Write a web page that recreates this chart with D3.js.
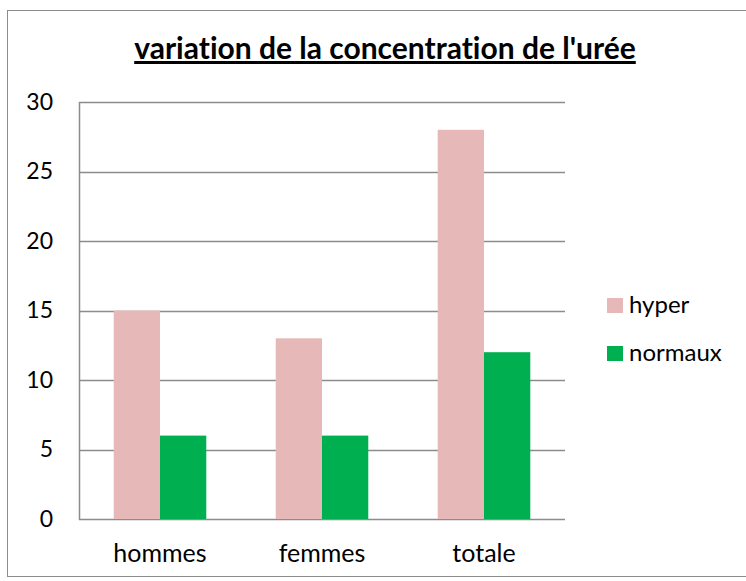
<!DOCTYPE html>
<html>
  <head>
    <meta charset="utf-8">
    <title>variation de la concentration de l'urée</title>
    <script src="https://d3js.org/d3.v7.min.js"></script>
    <style>
      body { margin: 0; background: #fff; }
      text { font-family: Lato, "Open Sans", sans-serif; fill: #000; font-variant-ligatures: none; }
    </style>
  </head>
  <body>
    <svg width="746" height="581"></svg>
    <script>
      var categories = ["hommes", "femmes", "totale"];
      var seriesNames = ["hyper", "normaux"];
      var hyper = [15, 13, 28];
      var normaux = [6, 6, 12];
      var yTicks = [0, 5, 10, 15, 20, 25, 30];
      var colors = ["#E6B9B8", "#00B050"];

      var svg = d3.select("svg");
      var marge = {top: 102, bottom: 62, left: 79, right: 181};
      var width = 746, height = 581;

      // cadre
      svg.append("rect")
        .attr("x", 7.5).attr("y", 10.5)
        .attr("width", 746).attr("height", 566)
        .attr("fill", "#fff").attr("stroke", "#8c8c8c");

      var x0 = d3.scaleBand()
        .domain(categories)
        .range([marge.left, width - marge.right]);
      var x1 = d3.scaleBand()
        .domain(seriesNames)
        .range([0, x0.bandwidth()])
        .paddingOuter(0.75);
      var y = d3.scaleLinear()
        .domain([0, 30])
        .range([height - marge.bottom, marge.top]);

      // grille
      svg.append("g").selectAll("line")
        .data(yTicks)
        .enter().append("line")
        .attr("x1", marge.left).attr("x2", width - marge.right)
        .attr("y1", function(d){ return Math.round(y(d)) + 0.5; })
        .attr("y2", function(d){ return Math.round(y(d)) + 0.5; })
        .attr("stroke", "#8c8c8c").attr("stroke-width", 1.5);

      // barres
      var table = categories.map(function(c, i){
        return {cat: c, values: [hyper[i], normaux[i]]};
      });
      var gs = svg.append("g").selectAll("g")
        .data(table)
        .enter().append("g")
        .attr("transform", function(d){ return "translate(" + x0(d.cat) + ",0)"; });
      gs.selectAll("rect")
        .data(function(d){ return d.values.map(function(v, j){ return {s: seriesNames[j], v: v, j: j}; }); })
        .enter().append("rect")
        .attr("x", function(d){ return x1(d.s); })
        .attr("width", x1.bandwidth())
        .attr("y", function(d){ return y(d.v); })
        .attr("height", function(d){ return y(0) - y(d.v); })
        .attr("fill", function(d){ return colors[d.j]; });

      // axe y
      svg.append("line")
        .attr("x1", marge.left + 0.5).attr("x2", marge.left + 0.5)
        .attr("y1", y(30)).attr("y2", y(0) + 1)
        .attr("stroke", "#8c8c8c").attr("stroke-width", 1.5);
      var yAxis = svg.append("g")
        .attr("transform", "translate(" + marge.left + ",0)")
        .call(d3.axisLeft(y).tickValues(yTicks).tickSize(0).tickPadding(26));
      yAxis.select(".domain").remove();
      yAxis.selectAll("text").style("font-family", "Lato, sans-serif").style("font-size", "23px").attr("fill", "#000");

      // axe x
      var xAxis = svg.append("g")
        .attr("transform", "translate(0," + y(0) + ")")
        .call(d3.axisBottom(x0).tickSize(0).tickPadding(25));
      xAxis.select(".domain").remove();
      xAxis.selectAll("text").style("font-family", "Lato, sans-serif").style("font-size", "25px").attr("fill", "#000");

      // titre
      svg.append("text")
        .attr("x", 385).attr("y", 59)
        .attr("text-anchor", "middle")
        .style("font-size", "30px").style("font-weight", "bold")
        .style("text-decoration", "underline")
        .text("variation de la concentration de l'urée");

      // légende
      var leg = svg.append("g").selectAll("g")
        .data(seriesNames)
        .enter().append("g")
        .attr("transform", function(d, i){ return "translate(607," + (298 + i * 48) + ")"; });
      leg.append("rect")
        .attr("width", 16).attr("height", 15)
        .attr("fill", function(d, i){ return colors[i]; });
      leg.append("text")
        .attr("x", 22).attr("y", 15)
        .style("font-size", "24px")
        .text(function(d){ return d; });
    </script>
  </body>
</html>
